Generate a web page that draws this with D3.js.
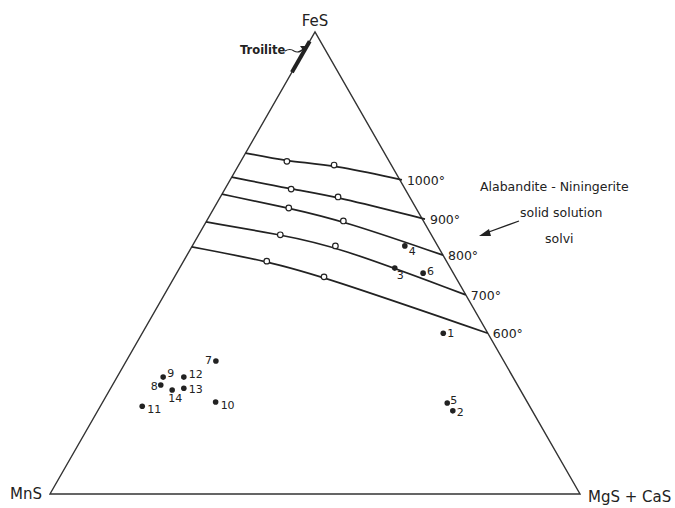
<!DOCTYPE html>
<html>
<head>
<meta charset="utf-8">
<script src="https://cdn.jsdelivr.net/npm/d3@7"></script>
<style>
  body { margin: 0; background: #fff; }
  svg text { font-family: "DejaVu Sans", sans-serif; fill: #222; }
</style>
</head>
<body>
<svg width="675" height="508"></svg>
<script>
// mole %: r = MgS + CaS, f = FeS (MnS is the rest)
const vertexNames = ["MnS", "MgS + CaS", "FeS"];

const solvusTemps = ["1000°", "900°", "800°", "700°", "600°"];
const solvusR = [
    [0, 8.7, 18.0, 32.4],
    [0, 12.5, 22.2, 41.0],
    [0, 14.1, 25.8, 48.3],
    [0, 15.4, 27.0, 56.9],
    [0, 15.7, 28.2, 65.2]
];
const solvusF = [
    [73.8, 72.0, 71.2, 68.0],
    [68.6, 66.0, 64.3, 59.5],
    [64.9, 61.9, 59.1, 51.7],
    [58.9, 56.1, 53.7, 43.1],
    [53.5, 50.4, 47.0, 34.8]
];

const sampleIds = ["1", "2", "3", "4", "5", "6", "7", "8", "9", "10", "11", "12", "13", "14"];
const sampleR = [56.8, 67.0, 40.6, 40.1, 65.1, 46.5, 16.9, 9.1, 8.7, 21.3, 7.9, 12.6, 13.8, 11.8];
const sampleF = [34.8, 18.0, 48.9, 53.7, 19.7, 47.8, 28.8, 23.6, 25.3, 19.9, 19.0, 25.3, 22.9, 22.5];

const troiliteF = [98, 91.3];

// label offsets (px) for the numbered samples
const labelOffsets = {
    "1": [4, 4], "2": [4, 5], "3": [2, 11], "4": [4, 9], "5": [3, 1], "6": [4, 2],
    "7": [-11, 3], "8": [-10, 5], "9": [4, 0], "10": [5, 7], "11": [5, 7],
    "12": [5, 1], "13": [5, 5], "14": [-4, 12]
};

const svg = d3.select("svg");
const x = d3.scaleLinear().domain([0, 1]).range([50, 580]);
const y = d3.scaleLinear().domain([0, 1]).range([494, 32]);

const project = (r, f) => [x(r / 100 + f / 200), y(f / 100)];

const corners = [project(0, 0), project(100, 0), project(0, 100)];

svg.append("path")
    .attr("d", d3.line()(corners) + "Z")
    .attr("fill", "none")
    .attr("stroke", "#333")
    .attr("stroke-width", 1.4);

// vertex labels
svg.append("text").attr("x", corners[0][0] - 40).attr("y", corners[0][1] + 5)
    .attr("font-size", 15).text(vertexNames[0]);
svg.append("text").attr("x", corners[1][0] + 8).attr("y", corners[1][1] + 8)
    .attr("font-size", 15).text(vertexNames[1]);
svg.append("text").attr("x", corners[2][0]).attr("y", corners[2][1] - 6)
    .attr("text-anchor", "middle").attr("font-size", 15).text(vertexNames[2]);

// solvus curves
const curve = d3.line().curve(d3.curveBasis);
solvusTemps.forEach((t, i) => {
    const pts = solvusR[i].map((r, j) => project(r, solvusF[i][j]));
    svg.append("path")
        .attr("d", curve(pts))
        .attr("fill", "none")
        .attr("stroke", "#222")
        .attr("stroke-width", 1.7);

    svg.selectAll(null)
        .data(pts.slice(1, -1))
        .join("circle")
        .attr("cx", p => p[0])
        .attr("cy", p => p[1])
        .attr("r", 2.8)
        .attr("fill", "#fff")
        .attr("stroke", "#222")
        .attr("stroke-width", 1.2);

    const end = pts[pts.length - 1];
    svg.append("text")
        .attr("x", end[0] + 5)
        .attr("y", end[1] + 5)
        .attr("font-size", 12.5)
        .text(t);
});

// numbered samples
const samples = sampleIds.map((id, i) => ({ id, p: project(sampleR[i], sampleF[i]) }));
svg.selectAll(".sample")
    .data(samples)
    .join("circle")
    .attr("class", "sample")
    .attr("cx", d => d.p[0])
    .attr("cy", d => d.p[1])
    .attr("r", 2.8)
    .attr("fill", "#222");

svg.selectAll(".sampleLabel")
    .data(samples)
    .join("text")
    .attr("class", "sampleLabel")
    .attr("x", d => d.p[0] + labelOffsets[d.id][0])
    .attr("y", d => d.p[1] + labelOffsets[d.id][1])
    .attr("font-size", 11)
    .text(d => d.id);

// troilite bar on the MnS-FeS edge
const t0 = project(0, troiliteF[0]);
const t1 = project(0, troiliteF[1]);
svg.append("line")
    .attr("x1", t0[0]).attr("y1", t0[1])
    .attr("x2", t1[0]).attr("y2", t1[1])
    .attr("stroke", "#222")
    .attr("stroke-width", 4);

svg.append("text").attr("x", 240).attr("y", 54)
    .attr("font-size", 11.5).attr("font-weight", 600).text("Troilite");
svg.append("path")
    .attr("d", "M285,51 q5,-3 9,0 q5,3 10,-3")
    .attr("fill", "none").attr("stroke", "#222").attr("stroke-width", 1.2);
svg.append("path")
    .attr("d", "M306,46 l-6,0 l3,4 Z")
    .attr("fill", "#222");

// annotation
const note = svg.append("g").attr("font-size", 12.5);
note.append("text").attr("x", 480).attr("y", 191).text("Alabandite - Niningerite");
note.append("text").attr("x", 520).attr("y", 217).text("solid  solution");
note.append("text").attr("x", 545).attr("y", 243).text("solvi");

svg.append("line")
    .attr("x1", 519).attr("y1", 221)
    .attr("x2", 486).attr("y2", 233)
    .attr("stroke", "#222").attr("stroke-width", 1.3);
svg.append("path")
    .attr("d", "M479,236 L489,229 L491,236 Z")
    .attr("fill", "#222");
</script>
</body>
</html>
